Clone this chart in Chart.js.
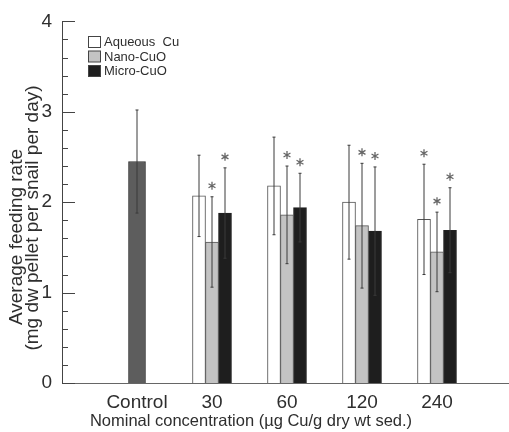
<!DOCTYPE html>
<html>
<head>
<meta charset="utf-8">
<script src="https://cdn.jsdelivr.net/npm/chart.js@4.4.0/dist/chart.umd.min.js"></script>
<style>
  html, body { margin: 0; padding: 0; background: #fff; }
</style>
</head>
<body>
<canvas id="chart" width="509" height="432"></canvas>
<script>
const categories = ['Control', '30', '60', '120', '240'];
const controlMean = [2.45];
const controlSd = [0.57];
const aqueousMean = [2.07, 2.18, 2.00, 1.81];
const aqueousSd = [0.45, 0.54, 0.63, 0.61];
const nanoMean = [1.56, 1.86, 1.74, 1.45];
const nanoSd = [0.50, 0.54, 0.69, 0.44];
const microMean = [1.88, 1.94, 1.68, 1.69];
const microSd = [0.50, 0.38, 0.71, 0.47];
// asterisks (significant vs control)
const aqueousSig = [false, false, false, true];
const nanoSig = [true, true, true, true];
const microSig = [true, true, true, true];
const yTickLabels = [0, 1, 2, 3, 4];

const FONT = "'Liberation Sans', Arial, sans-serif";
const TEXT = '#2e2e2e';

const points = (arr, start) => arr.map((v, i) => ({ x: start + i, y: v }));

const errorBars = {
  id: 'errorBars',
  afterDatasetsDraw(chart) {
    const ctx = chart.ctx;
    const y = chart.scales.y;
    ctx.save();
    chart.data.datasets.forEach((ds, di) => {
      const meta = chart.getDatasetMeta(di);
      meta.data.forEach((bar, i) => {
        const m = ds.data[i].y, sd = ds.sd[i];
        const top = y.getPixelForValue(m + sd);
        const bot = y.getPixelForValue(m - sd);
        ctx.strokeStyle = '#3a3a3a';
        ctx.lineWidth = 1;
        ctx.beginPath();
        ctx.moveTo(bar.x, top); ctx.lineTo(bar.x, bot);
        ctx.moveTo(bar.x - 1.5, top); ctx.lineTo(bar.x + 1.5, top);
        ctx.moveTo(bar.x - 1.5, bot); ctx.lineTo(bar.x + 1.5, bot);
        ctx.stroke();
        if (ds.sig && ds.sig[i]) {
          // six-spoke asterisk above the bar's error cap
          const cy = top - 11, r = 4;
          ctx.strokeStyle = '#666';
          ctx.lineWidth = 1.3;
          ctx.beginPath();
          for (let k = 0; k < 3; k++) {
            const a = Math.PI / 2 + k * Math.PI / 3;
            ctx.moveTo(bar.x - r * Math.cos(a), cy - r * Math.sin(a));
            ctx.lineTo(bar.x + r * Math.cos(a), cy + r * Math.sin(a));
          }
          ctx.stroke();
        }
      });
    });
    ctx.restore();
  }
};

const extras = {
  id: 'extras',
  afterDraw(chart) {
    const ctx = chart.ctx;
    const area = chart.chartArea;
    const y = chart.scales.y;
    ctx.save();
    // inward tick marks on the y axis
    ctx.strokeStyle = '#444';
    ctx.lineWidth = 1;
    ctx.beginPath();
    y.ticks.forEach(t => {
      const py = Math.round(y.getPixelForValue(t.value)) + 0.5;
      const major = Math.abs(t.value - Math.round(t.value)) < 1e-6;
      ctx.moveTo(area.left, py);
      ctx.lineTo(area.left + (major ? 13 : 6), py);
    });
    ctx.stroke();

    // legend
    ctx.font = '13px ' + FONT;
    ctx.textBaseline = 'middle';
    chart.data.datasets.filter(ds => ds.inLegend).forEach((ds, i) => {
      const by = 36 + i * 14.5;
      ctx.fillStyle = ds.backgroundColor;
      ctx.fillRect(88.5, by + 0.5, 12, 11);
      ctx.strokeStyle = '#444';
      ctx.strokeRect(88.5, by + 0.5, 12, 11);
      ctx.fillStyle = TEXT;
      ctx.fillText(ds.label, 104, by + 6.5);
    });

    // x axis title (sits left of the plot centre in the original)
    ctx.font = '16.5px ' + FONT;
    ctx.textAlign = 'center';
    ctx.fillStyle = TEXT;
    ctx.fillText('Nominal concentration (\u00b5g Cu/g dry wt sed.)', 251, 421);

    // y axis title, two lines
    ctx.font = '19px ' + FONT;
    ctx.save();
    ctx.translate(17, 237);
    ctx.rotate(-Math.PI / 2);
    ctx.fillText('Average feeding rate', 0, 0);
    ctx.restore();
    ctx.translate(33, 218);
    ctx.rotate(-Math.PI / 2);
    ctx.fillText('(mg dw pellet per snail per day)', 0, 0);
    ctx.restore();
  }
};

new Chart(document.getElementById('chart'), {
  type: 'bar',
  data: {
    datasets: [
      { label: 'Control', data: points(controlMean, 1), sd: controlSd, grouped: false, barThickness: 17,
        backgroundColor: '#5d5d5d', borderColor: '#333', borderWidth: 1 },
      { label: 'Aqueous  Cu', data: points(aqueousMean, 2), sd: aqueousSd, sig: aqueousSig, inLegend: true, barThickness: 13,
        backgroundColor: '#ffffff', borderColor: '#555', borderWidth: 1 },
      { label: 'Nano-CuO', data: points(nanoMean, 2), sd: nanoSd, sig: nanoSig, inLegend: true, barThickness: 13,
        backgroundColor: '#c3c3c3', borderColor: '#555', borderWidth: 1 },
      { label: 'Micro-CuO', data: points(microMean, 2), sd: microSd, sig: microSig, inLegend: true, barThickness: 13,
        backgroundColor: '#1e1e1e', borderColor: '#222', borderWidth: 1 }
    ]
  },
  options: {
    responsive: false,
    animation: false,
    devicePixelRatio: 1,
    layout: { padding: { top: 18, right: 0, bottom: 0, left: 0 } },
    plugins: { legend: { display: false }, tooltip: { enabled: false } },
    scales: {
      x: {
        type: 'linear',
        offset: false,
        min: 0,
        max: 5.96,
        afterBuildTicks: s => { s.ticks = categories.map((c, i) => ({ value: i + 1 })); },
        afterFit: s => { s.height = 49; },
        grid: { display: false, drawTicks: false },
        border: { color: '#666', width: 1 },
        ticks: {
          padding: 8,
          autoSkip: false,
          maxRotation: 0,
          color: TEXT,
          font: { family: FONT, size: 19 },
          callback: v => categories[Math.round(v) - 1] || ''
        }
      },
      y: {
        min: 0,
        max: 4,
        afterFit: s => { s.width = 62; },
        grid: { display: false, drawTicks: false },
        border: { color: '#444', width: 1 },
        ticks: {
          stepSize: 0.2,
          autoSkip: false,
          padding: 10,
          color: TEXT,
          font: { family: FONT, size: 19 },
          callback: v => yTickLabels.find(t => Math.abs(t - v) < 1e-6) ?? ''
        }
      }
    }
  },
  plugins: [errorBars, extras]
});
</script>
</body>
</html>
